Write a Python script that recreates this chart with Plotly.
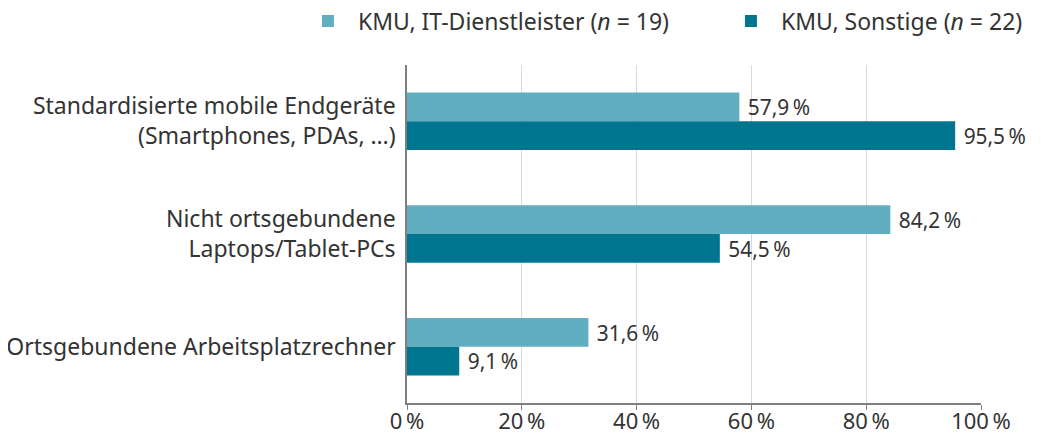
import plotly.graph_objects as go

categories = [
    "Standardisierte mobile Endgeräte<br>(Smartphones, PDAs, …)",
    "Nicht ortsgebundene<br>Laptops/Tablet-PCs",
    "Ortsgebundene Arbeitsplatzrechner",
]
series_names = ["KMU, IT-Dienstleister (<i>n</i> = 19)", "KMU, Sonstige (<i>n</i> = 22)"]
it_values = [57.9, 84.2, 31.6]
other_values = [95.5, 54.5, 9.1]
tick_values = [0, 20, 40, 60, 80, 100]
tick_labels = ["0\u2009%", "20\u2009%", "40\u2009%", "60\u2009%", "80\u2009%", "100\u2009%"]

colors = ["#62aec1", "#00758f"]
font_family = "Noto Sans"
text_color = "#333333"
fs = 23

def fmt(v):
    return "\u00a0" + f"{v:.1f}".replace(".", ",") + "\u2009%"

fig = go.Figure()
for name, vals, col in zip(series_names, [it_values, other_values], colors):
    fig.add_trace(go.Bar(
        y=categories, x=vals, name=name, orientation="h",
        marker=dict(color=col, line=dict(width=0)),
        text=[fmt(v) for v in vals], textposition="outside",
        textfont=dict(size=24, color=text_color, family=font_family),
        cliponaxis=False,
    ))

# page body has an 8px margin, so the figure is 8px smaller than the window
fig.update_layout(
    width=1043, height=426,
    margin=dict(l=399, r=70, t=57, b=31, autoexpand=False),
    paper_bgcolor="white", plot_bgcolor="white",
    barmode="group", bargap=0.49, bargroupgap=0,
    font=dict(family=font_family, size=fs, color=text_color),
    showlegend=True,
    legend=dict(orientation="h", x=-0.19, xanchor="left", y=1.13, yanchor="middle",
                font=dict(size=fs, color=text_color), traceorder="normal",
                itemwidth=50, entrywidth=358, entrywidthmode="pixels",
                bgcolor="rgba(0,0,0,0)"),
)
fig.update_xaxes(
    range=[0, 100], tickvals=tick_values, ticktext=tick_labels,
    showgrid=True, gridcolor="#d9d9d9", gridwidth=1,
    showline=True, linecolor="#7f7f7f", linewidth=1.5,
    ticks="outside", ticklen=5, tickcolor="#7f7f7f",
    zeroline=False, automargin=False, ticklabelstandoff=-7,
    tickfont=dict(size=22, color=text_color),
)
fig.update_yaxes(
    autorange="reversed", showline=True, linecolor="#7f7f7f", linewidth=1.5,
    showgrid=False, ticks="", automargin=False,
    tickfont=dict(size=fs, color=text_color), ticklabelstandoff=5,
)

fig.write_html("out.html")
